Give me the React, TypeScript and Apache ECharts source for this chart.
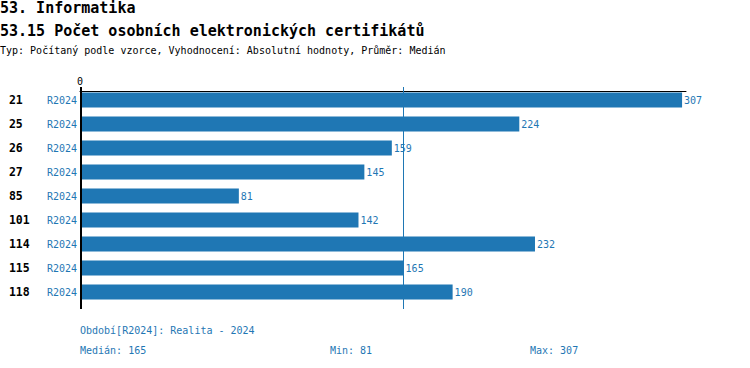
import React, { useEffect, useRef } from 'react';
import * as echarts from 'echarts';

const titleLines = [
  '53. Informatika',
  '53.15 Počet osobních elektronických certifikátů',
  'Typ: Počítaný podle vzorce, Vyhodnocení: Absolutní hodnoty, Průměr: Medián',
];
const categories = ['21', '25', '26', '27', '85', '101', '114', '115', '118'];
const periodLabel = 'R2024';
const periodName = 'Realita - 2024';
const values = [307, 224, 159, 145, 81, 142, 232, 165, 190];
const xMax = 309;

const MONO = '"DejaVu Sans Mono", "Liberation Mono", monospace';
const BLUE = '#1f77b4';

export default function App() {
  const ref = useRef<HTMLDivElement>(null);
  useEffect(() => {
    const chart = echarts.init(ref.current!, null, { renderer: 'svg' });
    const sorted = [...values].sort((a, b) => a - b);
    const n = sorted.length;
    const median = n % 2 ? sorted[(n - 1) / 2] : (sorted[n / 2 - 1] + sorted[n / 2]) / 2;
    const minV = sorted[0];
    const maxV = sorted[n - 1];

    chart.setOption({
      animation: false,
      grid: { left: 80, right: 64, top: 88, height: 216 },
      xAxis: {
        type: 'value',
        position: 'top',
        min: 0,
        max: xMax,
        offset: -3,
        splitLine: { show: false },
        axisTick: { show: false },
        axisLine: { show: true, lineStyle: { color: '#000', width: 1 } },
        axisLabel: {
          formatter: (v: number) => (v === 0 ? '0' : ''),
          showMaxLabel: false,
          fontFamily: MONO,
          fontSize: 10,
          color: '#000',
          margin: 5,
        },
      },
      yAxis: {
        type: 'category',
        data: categories,
        inverse: true,
        axisLine: { show: false },
        axisTick: { show: false },
        splitLine: { show: false },
        axisLabel: {
          margin: 3,
          formatter: (v: string) => `{a|${v}}{b|${periodLabel}}`,
          rich: {
            a: { width: 38, align: 'left', fontFamily: MONO, fontWeight: 'bold', fontSize: 11.5, color: '#000' },
            b: { fontFamily: MONO, fontSize: 10, color: BLUE },
          },
        },
      },
      series: [
        {
          type: 'bar',
          data: values,
          barWidth: 15,
          itemStyle: { color: BLUE },
          label: {
            show: true,
            position: 'right',
            distance: 2,
            color: BLUE,
            fontFamily: MONO,
            fontSize: 10,
          },
        },
      ],
    });

    const x0 = chart.convertToPixel({ xAxisIndex: 0 }, 0) as number;
    const xm = chart.convertToPixel({ xAxisIndex: 0 }, median) as number;

    const txt = (text: string, x: number, y: number, font: string, fill: string) => ({
      type: 'text',
      x,
      y,
      style: { text, fill, font, textAlign: 'left', textVerticalAlign: 'middle' },
    });

    chart.setOption({
      graphic: [
        txt(titleLines[0], 0, 8, `bold 15px ${MONO}`, '#000'),
        txt(titleLines[1], 0, 31, `bold 15px ${MONO}`, '#000'),
        txt(titleLines[2], 0, 50, `10px ${MONO}`, '#000'),
        {
          type: 'line',
          shape: { x1: x0 + 1, y1: 87, x2: x0 + 1, y2: 309 },
          style: { stroke: '#000', lineWidth: 2 },
          z: 10,
        },
        {
          type: 'line',
          shape: { x1: Math.round(xm) - 0.5, y1: 87, x2: Math.round(xm) - 0.5, y2: 309 },
          style: { stroke: BLUE, lineWidth: 1 },
          z: 10,
        },
        txt(`Období[${periodLabel}]: ${periodName}`, 80, 330, `10px ${MONO}`, BLUE),
        txt(`Medián: ${median}`, 80, 350, `10px ${MONO}`, BLUE),
        txt(`Min: ${minV}`, 330, 350, `10px ${MONO}`, BLUE),
        txt(`Max: ${maxV}`, 530, 350, `10px ${MONO}`, BLUE),
      ],
    });

    return () => chart.dispose();
  }, []);

  return (
    <div
      ref={ref}
      style={{ position: 'fixed', left: 0, top: 0, width: 750, height: 368, background: '#fff' }}
    />
  );
}
